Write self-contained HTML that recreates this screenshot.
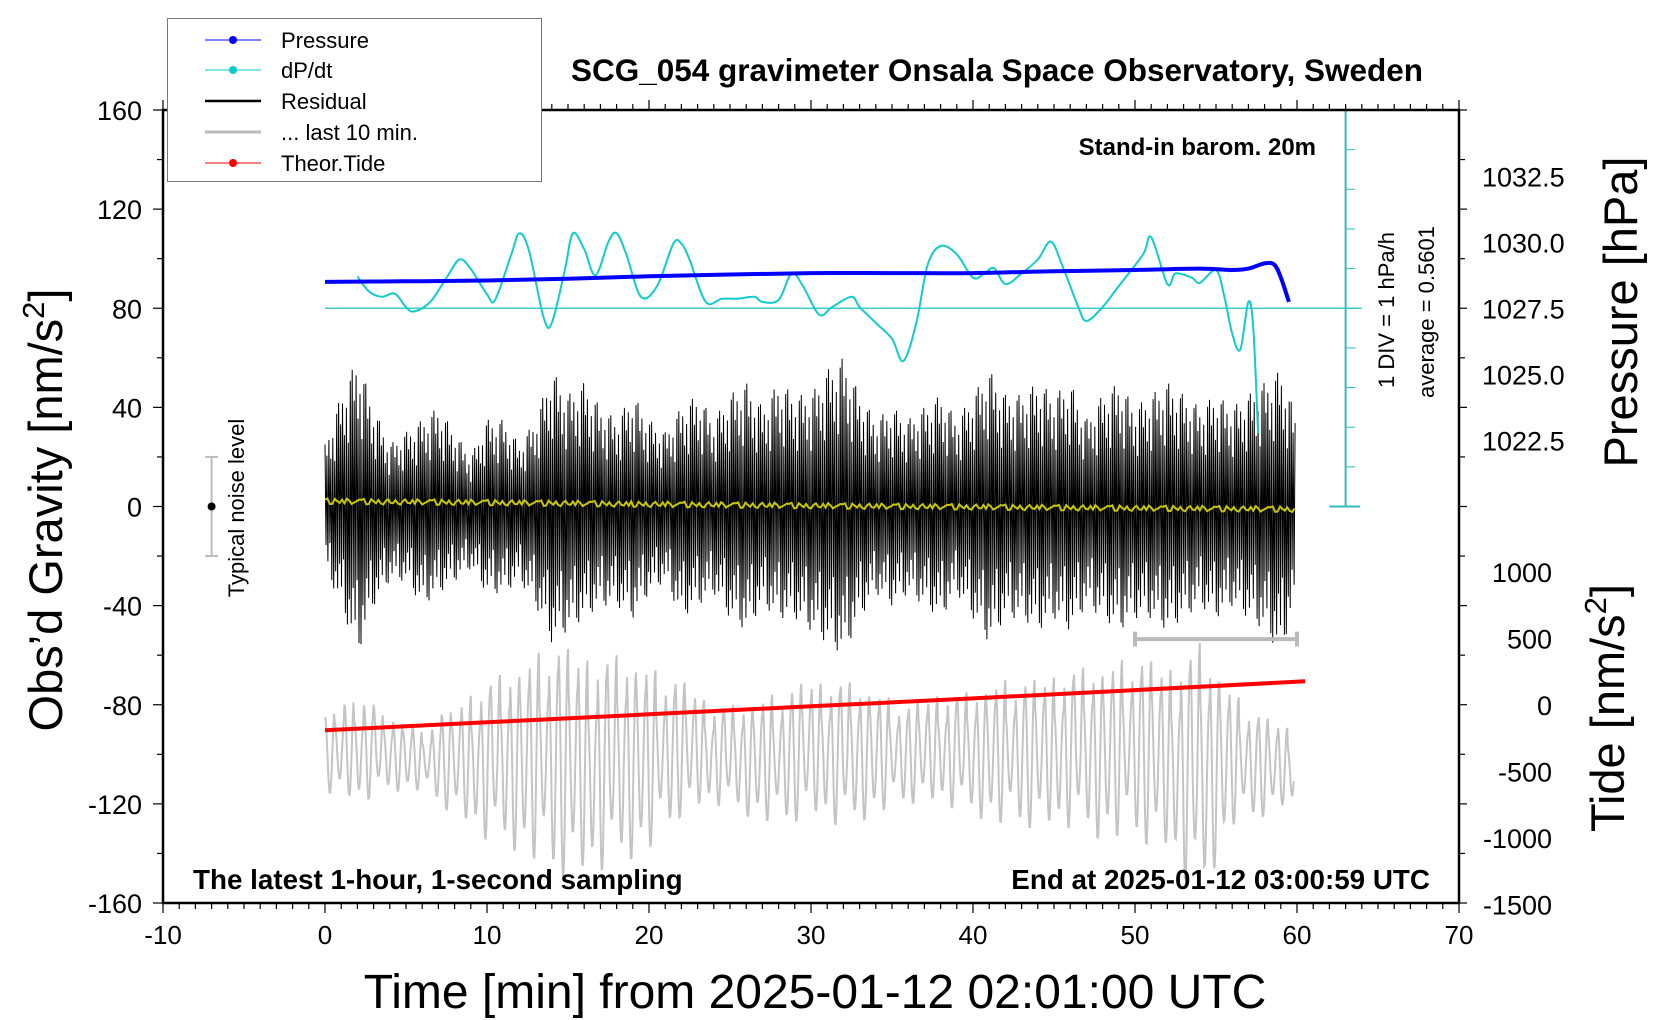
<!DOCTYPE html>
<html><head><meta charset="utf-8"><style>
html,body{margin:0;padding:0;background:#fff;}
svg{display:block;font-family:"Liberation Sans",Arial,sans-serif;}
</style></head><body>
<svg id="chart" width="1660" height="1020" viewBox="0 0 1660 1020" xmlns="http://www.w3.org/2000/svg">
<rect width="1660" height="1020" fill="#fff"/>
<g id="marks"></g>
<g id="axes"></g>
<text x="997" y="81" text-anchor="middle" font-size="31.5" font-weight="bold">SCG_054 gravimeter Onsala Space Observatory, Sweden</text>
<text x="1316" y="155" text-anchor="end" font-size="24" font-weight="bold">Stand-in barom. 20m</text>
<text x="193" y="889" font-size="27.8" font-weight="bold">The latest 1-hour, 1-second sampling</text>
<text x="1430" y="889" text-anchor="end" font-size="27.8" font-weight="bold">End at 2025-01-12 03:00:59 UTC</text>
<text transform="translate(1394,310) rotate(-90)" text-anchor="middle" font-size="22">1 DIV = 1 hPa/h</text>
<text transform="translate(1434,312) rotate(-90)" text-anchor="middle" font-size="22">average = 0.5601</text>
<text transform="translate(244,508) rotate(-90)" text-anchor="middle" font-size="22">Typical noise level</text>
<text transform="translate(62,510) rotate(-90)" text-anchor="middle" font-size="47">Obs’d Gravity [nm/s<tspan font-size="31" dy="-18">2</tspan><tspan dy="18">]</tspan></text>
<text x="815" y="1008" text-anchor="middle" font-size="48">Time [min] from 2025-01-12 02:01:00 UTC</text>
<text transform="translate(1637,312) rotate(-90)" text-anchor="middle" font-size="47">Pressure [hPa]</text>
<text transform="translate(1624,708) rotate(-90)" text-anchor="middle" font-size="47">Tide [nm/s<tspan font-size="31" dy="-18">2</tspan><tspan dy="18">]</tspan></text>
<g>
<rect x="167.5" y="18.5" width="374" height="163" fill="#fff" stroke="#777" stroke-width="1"/>
<g><line x1="205" y1="40" x2="261" y2="40" stroke="#00f" stroke-width="1"/><circle cx="233" cy="40" r="4" fill="#00f"/><text x="281" y="48" font-size="22">Pressure</text></g>
<g><line x1="205" y1="70" x2="261" y2="70" stroke="#0cc" stroke-width="1"/><circle cx="233" cy="70" r="4" fill="#0cc"/><text x="281" y="78" font-size="22">dP/dt</text></g>
<g><line x1="205" y1="101" x2="261" y2="101" stroke="#000" stroke-width="2.5"/><text x="281" y="109" font-size="22">Residual</text></g>
<g><line x1="205" y1="132" x2="261" y2="132" stroke="#bbb" stroke-width="3"/><text x="281" y="140" font-size="22">... last 10 min.</text></g>
<g><line x1="205" y1="163" x2="261" y2="163" stroke="#f00" stroke-width="1"/><circle cx="233" cy="163" r="4" fill="#f00"/><text x="281" y="171" font-size="22">Theor.Tide</text></g>
</g>
</svg>
<script>
// ---- data ----
const pressureT = [0,5,10,15,20,25,30,35,40,45,50,54,56,57,58,58.6,59,59.5];
const pressureV = [1028.5,1028.52,1028.55,1028.62,1028.71,1028.78,1028.83,1028.83,1028.83,1028.9,1028.95,1029.0,1028.95,1029.0,1029.2,1029.15,1028.67,1027.74];
const dpdtT = [2,2.7,3.5,4.3,5,5.5,6.5,7.5,8.3,9,10,10.5,11.5,12,12.6,13.5,14,14.8,15.3,16,16.7,17.5,18,18.6,19.5,20.5,21.5,22,22.5,23.5,24.5,25.5,26.5,27,28,28.8,29.5,30.5,31.3,32.5,33,34,35,35.7,36.5,37.2,38,39,40,40.7,41.3,42,43,44,44.8,45.5,46.5,47,48,49,50.5,51,52,52.5,53.5,54,55,55.5,56,56.5,57,57.3,57.6];
const dpdtV = [1.36,0.99,0.85,0.93,0.59,0.48,0.72,1.33,1.79,1.55,0.91,0.77,1.92,2.45,2.0,0.32,0.19,1.52,2.45,2.05,1.39,2.24,2.45,1.92,0.85,1.12,2.19,2.19,1.79,0.72,0.8,0.8,0.85,0.72,0.77,1.44,1.12,0.4,0.59,0.85,0.59,0.19,-0.21,-0.77,0.19,1.65,2.13,1.92,1.33,1.44,1.57,1.17,1.44,1.79,2.24,1.65,0.59,0.24,0.59,1.12,1.92,2.35,1.17,1.44,1.33,1.2,1.52,0.88,-0.08,-0.48,0.72,0.05,-2.6];
const dpdtAverage = 0.5601;
const tideT = [0,10,20,30,40,50,60.5];
const tideV = [-192,-132,-72,-12,48,110,176];
const residualT = [...Array(61).keys()];
const residualUp = [25,45,60,40,25,30,35,40,30,20,35,35,25,35,55,45,50,40,35,45,35,30,40,45,35,45,50,40,50,45,45,55,60,45,35,40,35,40,45,35,45,55,45,45,50,45,50,35,45,50,40,45,50,45,40,45,40,45,50,55,35];
const residualDown = [-25,-40,-60,-40,-30,-30,-40,-35,-30,-25,-35,-35,-30,-40,-55,-50,-45,-40,-40,-45,-35,-30,-45,-40,-35,-45,-50,-40,-45,-45,-50,-55,-60,-45,-35,-40,-35,-40,-45,-35,-45,-55,-45,-45,-50,-45,-50,-40,-45,-50,-45,-45,-50,-45,-40,-45,-40,-45,-50,-60,-35];
const meanT = [0,10,20,30,40,50,60];
const meanV = [2,1.5,0.8,0.2,-0.3,-0.8,-1.2];
const greyT = [0,2,4,6,8,10,12,14,16,18,20,22,24,26,28,30,32,34,36,38,40,42,44,46,48,50,52,54,56,58,60];
const greyUp = [-85,-75,-85,-90,-80,-70,-65,-55,-60,-60,-65,-70,-80,-80,-75,-70,-70,-75,-80,-75,-75,-70,-70,-65,-65,-60,-65,-55,-75,-85,-90];
const greyDown = [-115,-120,-115,-115,-125,-135,-140,-150,-150,-145,-140,-125,-120,-125,-130,-125,-130,-125,-120,-120,-125,-130,-130,-130,-135,-135,-140,-160,-130,-125,-120];
const xTicks = [-10,0,10,20,30,40,50,60,70];
const yTicks = [160,120,80,40,0,-40,-80,-120,-160];
const pTicks = [1022.5,1025.0,1027.5,1030.0,1032.5];
const tideTicks = [1000,500,0,-500,-1000,-1500];

// ---- scales ----
const X0=163, X1=1459, YT=110, YB=903;
const sx = t => X0 + (t+10)*(X1-X0)/80;
const sy = g => YT + (160-g)*(YB-YT)/320;
const spres = p => sy(80) - (p-1027.5)*26.4;
const stide = v => sy(-80) - v*0.133;
const sdp = v => sy(80) - (v-dpdtAverage)*(sy(0)-sy(16));
const NS='http://www.w3.org/2000/svg';
const marks=document.getElementById('marks'), axes=document.getElementById('axes');
function mk(tag, attrs, parent){const e=document.createElementNS(NS,tag);for(const k in attrs)e.setAttribute(k,attrs[k]);parent.appendChild(e);return e;}
function interp(T,V,t){if(t<=T[0])return V[0];for(let i=1;i<T.length;i++){if(t<=T[i]){const f=(t-T[i-1])/(T[i]-T[i-1]);return V[i-1]+f*(V[i]-V[i-1]);}}return V[V.length-1];}
function smoothPath(pts){let d='M'+pts[0][0].toFixed(1)+','+pts[0][1].toFixed(1);for(let i=0;i<pts.length-1;i++){const p0=pts[i-1]||pts[i],p1=pts[i],p2=pts[i+1],p3=pts[i+2]||p2;const c1=[p1[0]+(p2[0]-p0[0])/6,p1[1]+(p2[1]-p0[1])/6],c2=[p2[0]-(p3[0]-p1[0])/6,p2[1]-(p3[1]-p1[1])/6];d+=`C${c1[0].toFixed(1)},${c1[1].toFixed(1)} ${c2[0].toFixed(1)},${c2[1].toFixed(1)} ${p2[0].toFixed(1)},${p2[1].toFixed(1)}`;}return d;}

// grey last-10-min oscillation (texture modulation per cycle)
const gmod=[1,0.7,0.95,0.5,0.85,1,0.6,0.9,0.75,1,0.55,0.8];
let gd='';const per=0.6;
for(let t=0;t<=59.8;t+=0.04){const u=interp(greyT,greyUp,t),l=interp(greyT,greyDown,t);const c=(u+l)/2,a=(u-l)/2;const cyc=Math.floor(t/per);const m=gmod[cyc%gmod.length];const cs=Math.cos(2*Math.PI*t/per);const g=c+a*cs*(cs>0?m:gmod[(cyc+5)%gmod.length]);gd+=(gd?'L':'M')+sx(t).toFixed(1)+','+sy(g).toFixed(1);}
const grey=mk('path',{d:gd,fill:'none',stroke:'#c4c4c4','stroke-width':2},marks);



// residual
const pattern=[1,0.35,0.75,0.2,0.9,0.45,0.6,0.15,0.8,0.3,0.5,0.25,0.95,0.4];
let rd='';let k=0;
for(let t=0;t<=59.9;t+=0.06){const up=interp(residualT,residualUp,t),dn=interp(residualT,residualDown,t);const g=(k%2===0)?up*pattern[k%pattern.length]:dn*pattern[(k+5)%pattern.length];rd+=(rd?'L':'M')+sx(t).toFixed(1)+','+sy(g).toFixed(1);k++;}
const res=mk('path',{d:rd,fill:'none',stroke:'#000','stroke-width':1},marks);



// mean (yellow)
let md='';const mpat=[0.8,-0.6,1.2,-1,0.4,-0.9,1.1,-0.3,0.2,-0.5,0.9];
for(let t=0;t<=59.9;t+=0.15){const g=interp(meanT,meanV,t)+mpat[Math.round(t*10)%mpat.length];md+=(md?'L':'M')+sx(t).toFixed(1)+','+sy(g).toFixed(1);}
const mean=mk('path',{d:md,fill:'none',stroke:'#c8c800','stroke-width':2},marks);



// tide
const tp=tideT.map((t,i)=>sx(t).toFixed(1)+','+stide(tideV[i]).toFixed(1)).join(' ');
const tide=mk('polyline',{points:tp,fill:'none',stroke:'#f00','stroke-width':4},marks);



// dP/dt baseline and curve
const base=mk('line',{x1:sx(0),y1:sdp(dpdtAverage),x2:sx(64),y2:sdp(dpdtAverage),stroke:'#4cc','stroke-width':1.5},marks);


const dpc=mk('path',{d:smoothPath(dpdtT.map((t,i)=>[sx(t),sdp(dpdtV[i])])),fill:'none',stroke:'#1cc','stroke-width':2},marks);



// pressure
const pc=mk('path',{d:smoothPath(pressureT.map((t,i)=>[sx(t),spres(pressureV[i])])),fill:'none',stroke:'#00f','stroke-width':4},marks);



// noise level bar
const nb=mk('g',{},marks);


mk('line',{x1:sx(-7),y1:sy(20),x2:sx(-7),y2:sy(-20),stroke:'#bbb','stroke-width':2},nb);
mk('line',{x1:sx(-7.4),y1:sy(20),x2:sx(-6.6),y2:sy(20),stroke:'#bbb','stroke-width':2},nb);
mk('line',{x1:sx(-7.4),y1:sy(-20),x2:sx(-6.6),y2:sy(-20),stroke:'#bbb','stroke-width':2},nb);
mk('circle',{cx:sx(-7),cy:sy(0),r:4,fill:'#000'},nb);
// last 10 min bar
const lb=mk('g',{},marks);


mk('line',{x1:sx(50),y1:sy(-53.5),x2:sx(60),y2:sy(-53.5),stroke:'#bbb','stroke-width':4},lb);
mk('line',{x1:sx(50),y1:sy(-50.5),x2:sx(50),y2:sy(-56.5),stroke:'#bbb','stroke-width':4},lb);
mk('line',{x1:sx(60),y1:sy(-50.5),x2:sx(60),y2:sy(-56.5),stroke:'#bbb','stroke-width':4},lb);

// dP/dt scale axis
const da=mk('g',{},axes);


mk('line',{x1:sx(63),y1:sy(160),x2:sx(63),y2:sy(0),stroke:'#3bb','stroke-width':2},da);
mk('line',{x1:sx(62),y1:sy(0),x2:sx(63.9),y2:sy(0),stroke:'#3bb','stroke-width':2},da);
for(let i=1;i<10;i++){mk('line',{x1:sx(63),y1:sy(i*16),x2:sx(63.6),y2:sy(i*16),stroke:'#3bb','stroke-width':1},da);}

// frame
const fr=mk('rect',{x:X0,y:YT,width:X1-X0,height:YB-YT,fill:'none',stroke:'#000','stroke-width':2.5},axes);



// x ticks
const xa=mk('g',{},axes);


for(let t=-10;t<=70;t++){const big=t%10===0;mk('line',{x1:sx(t),y1:YB,x2:sx(t),y2:YB+(big?10:6),stroke:'#000','stroke-width':1.2},xa);mk('line',{x1:sx(t),y1:YT,x2:sx(t),y2:YT-(big?10:6),stroke:'#000','stroke-width':1.2},xa);}
xTicks.forEach(t=>{const e=mk('text',{x:sx(t),y:YB+41,'text-anchor':'middle','font-size':26},xa);e.textContent=t;});
// y ticks
const ya=mk('g',{},axes);


for(let g=-160;g<=160;g+=20){const big=g%40===0;mk('line',{x1:X0,y1:sy(g),x2:X0-(big?10:6),y2:sy(g),stroke:'#000','stroke-width':1.2},ya);mk('line',{x1:X1,y1:sy(g),x2:X1+(big?8:6),y2:sy(g),stroke:'#000','stroke-width':1.2},ya);}
yTicks.forEach(g=>{const e=mk('text',{x:X0-21,y:sy(g)+10,'text-anchor':'end','font-size':27},ya);e.textContent=g;});
// pressure ticks
const pa=mk('g',{},axes);


pTicks.forEach(p=>{const e=mk('text',{x:X1+23,y:spres(p)+10,'font-size':27},pa);e.textContent=p.toFixed(1);});
// tide ticks
const ta=mk('g',{},axes);


tideTicks.forEach(v=>{const e=mk('text',{x:1552,y:stide(v)+10,'text-anchor':'end','font-size':27},ta);e.textContent=v;});
</script>
</body></html>
